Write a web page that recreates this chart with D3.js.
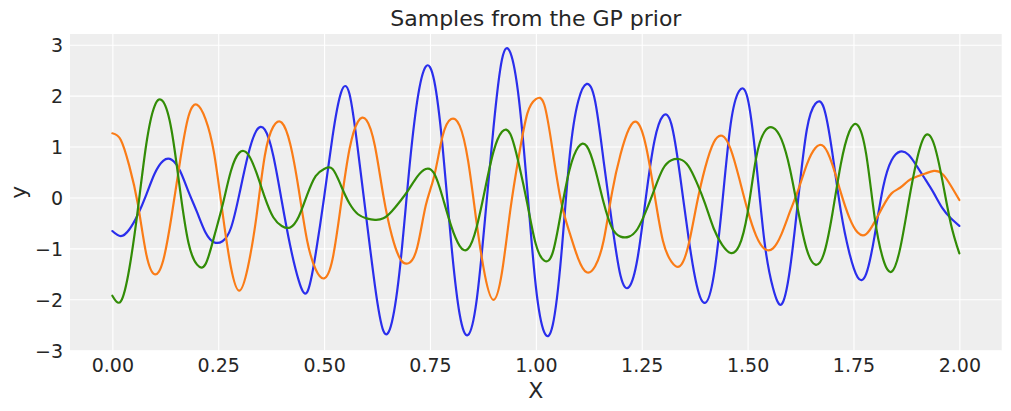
<!DOCTYPE html>
<html>
<head>
<meta charset="utf-8">
<script src="https://cdn.jsdelivr.net/npm/d3@7"></script>
<style>
  html, body { margin: 0; padding: 0; background: #ffffff; }
  svg { display: block; }
  text { font-family: "DejaVu Sans", sans-serif; fill: #262626; }
</style>
</head>
<body>
<svg id="chart" width="1011" height="411"></svg>
<script>
// ---- data ----
const xStart = 0, xEnd = 2, xStep = 0.02;   // sample grid of the GP draws
const blue = [-0.66,-0.76,-0.63,-0.34,0.05,0.47,0.72,0.74,0.52,0.11,
  -0.29,-0.69,-0.88,-0.86,-0.60,0.07,0.82,1.31,1.33,0.82,
  -0.07,-0.95,-1.63,-1.86,-1.11,0.00,1.20,2.06,2.03,0.92,
  -0.42,-1.73,-2.62,-2.45,-1.31,0.46,1.90,2.57,2.29,0.98,
  -0.88,-2.29,-2.70,-2.03,-0.42,1.37,2.71,2.84,1.93,0.13,
  -1.75,-2.65,-2.50,-1.14,0.82,1.89,2.23,1.89,0.72,-0.52,
  -1.54,-1.76,-1.20,0.01,1.11,1.60,1.44,0.46,-0.76,-1.73,
  -2.07,-1.54,-0.13,1.44,2.09,1.95,0.72,-0.88,-1.78,-2.10,
  -1.41,0.01,1.34,1.84,1.76,0.88,-0.26,-1.08,-1.57,-1.50,
  -0.75,0.20,0.73,0.90,0.84,0.61,0.35,0.08,-0.21,-0.41,
  -0.56];
const orange = [1.26,1.13,0.62,-0.12,-1.11,-1.51,-1.24,-0.36,0.72,1.60,
  1.82,1.54,0.88,-0.29,-1.37,-1.83,-1.37,-0.39,0.82,1.39,
  1.47,1.05,0.16,-0.85,-1.41,-1.59,-1.21,-0.13,0.95,1.49,
  1.52,1.01,0.03,-0.75,-1.21,-1.29,-0.98,-0.16,0.42,1.21,
  1.54,1.41,0.72,-0.49,-1.54,-2.01,-1.47,-0.23,0.82,1.65,
  1.93,1.82,0.90,-0.10,-0.70,-1.20,-1.47,-1.35,-0.85,0.10,
  0.85,1.35,1.47,1.01,0.07,-0.85,-1.26,-1.35,-0.95,-0.13,
  0.59,1.08,1.21,0.95,0.38,-0.25,-0.75,-1.01,-1.00,-0.72,
  -0.28,0.16,0.65,0.97,1.00,0.65,0.10,-0.39,-0.69,-0.72,
  -0.48,-0.17,0.08,0.19,0.33,0.41,0.47,0.52,0.46,0.23,
  -0.05];
const green = [-1.93,-2.04,-1.40,-0.25,1.04,1.80,1.88,1.31,0.14,-0.90,
  -1.32,-1.31,-0.78,-0.16,0.52,0.88,0.85,0.49,0.00,-0.39,
  -0.56,-0.59,-0.38,0.05,0.42,0.56,0.56,0.23,-0.12,-0.33,
  -0.41,-0.44,-0.41,-0.27,-0.07,0.16,0.41,0.56,0.47,0.00,
  -0.56,-0.95,-1.01,-0.59,0.16,0.90,1.29,1.24,0.65,-0.13,
  -0.92,-1.24,-1.08,-0.26,0.56,0.99,1.01,0.56,-0.10,-0.60,
  -0.77,-0.77,-0.62,-0.27,0.16,0.56,0.73,0.75,0.62,0.29,
  -0.13,-0.61,-0.93,-1.09,-0.95,-0.30,0.77,1.29,1.37,1.14,
  0.56,-0.29,-1.03,-1.32,-1.11,-0.33,0.65,1.29,1.42,0.85,
  -0.39,-1.21,-1.46,-1.01,-0.10,0.75,1.22,1.05,0.33,-0.52,
  -1.10];
const xTicks = [0, 0.25, 0.5, 0.75, 1.0, 1.25, 1.5, 1.75, 2.0];
const yTicks = [-3, -2, -1, 0, 1, 2, 3];
const seriesNames = ["blue", "orange", "green"];
const seriesColors = ["#2a2eec", "#fa7c17", "#328c06"];
const titleText = "Samples from the GP prior";
const xLabel = "X", yLabel = "y";

// ---- layout ----
const plot = { left: 70, top: 34, right: 1001.7, bottom: 350.7 };
const svg = d3.select("#chart");

const xs = d3.range(0, Math.round((xEnd - xStart) / xStep) + 1).map(i => xStart + i * xStep);
const x = d3.scaleLinear().domain([-0.1, 2.1]).range([plot.left, plot.right]);
const y = d3.scaleLinear().domain([-3.01, 3.21]).range([plot.bottom, plot.top]);

svg.append("rect").attr("width", 1011).attr("height", 411).attr("fill", "#ffffff");
svg.append("rect")
  .attr("x", plot.left).attr("y", plot.top)
  .attr("width", plot.right - plot.left).attr("height", plot.bottom - plot.top)
  .attr("fill", "#eeeeee");

const fmtX = d3.format(".2f");
const minus = s => String(s).replace("-", "\u2212");

const gx = svg.append("g").attr("transform", `translate(0,${plot.bottom})`)
  .call(d3.axisBottom(x).tickValues(xTicks).tickSize(-(plot.bottom - plot.top)).tickFormat(fmtX));
gx.select(".domain").remove();
gx.selectAll(".tick line").attr("stroke", "#ffffff").attr("stroke-width", 1.1);
gx.selectAll(".tick text").attr("y", 21.5).attr("dy", 0)
  .style("font-size", "19px").attr("fill", "#262626");

const gy = svg.append("g").attr("transform", `translate(${plot.left},0)`)
  .call(d3.axisLeft(y).tickValues(yTicks).tickSize(-(plot.right - plot.left)).tickFormat(d => minus(d)));
gy.select(".domain").remove();
gy.selectAll(".tick line").attr("stroke", "#ffffff").attr("stroke-width", 1.1);
gy.selectAll(".tick text").attr("x", -7).attr("dy", "0.36em")
  .style("font-size", "19px").attr("fill", "#262626");

svg.append("clipPath").attr("id", "clip").append("rect")
  .attr("x", plot.left).attr("y", plot.top)
  .attr("width", plot.right - plot.left).attr("height", plot.bottom - plot.top);

const line = d3.line().curve(d3.curveNatural)
  .x((d, i) => x(xs[i])).y(d => y(d));

const allSeries = [blue, orange, green];
svg.append("g").attr("clip-path", "url(#clip)")
  .selectAll("path").data(allSeries).join("path")
  .attr("d", d => line(d))
  .attr("fill", "none")
  .attr("stroke", (d, i) => seriesColors[i])
  .attr("stroke-width", 2.2)
  .attr("stroke-linejoin", "round")
  .attr("stroke-linecap", "round");

const cx = (plot.left + plot.right) / 2;
svg.append("text").attr("x", cx).attr("y", 26).attr("text-anchor", "middle")
  .style("font-size", "22px").text(titleText);
svg.append("text").attr("x", cx).attr("y", 398).attr("text-anchor", "middle")
  .style("font-size", "22px").text(xLabel);
svg.append("text").attr("transform", `translate(26,${(plot.top + plot.bottom) / 2}) rotate(-90)`)
  .attr("text-anchor", "middle").style("font-size", "22px").text(yLabel);
</script>
</body>
</html>
